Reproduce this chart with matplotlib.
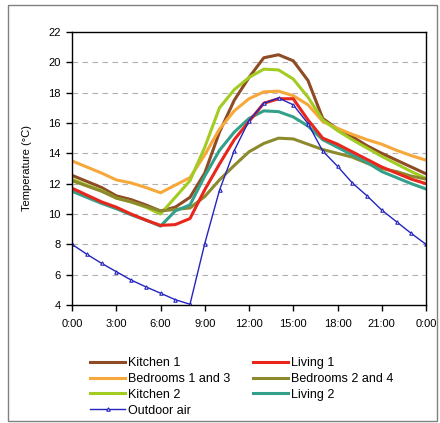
import matplotlib.pyplot as plt
import matplotlib.patches as patches
import numpy as np

plt.rcParams['font.family'] = ['Liberation Sans', 'DejaVu Sans']

hours = np.arange(0, 25)
tick_labels = ["0:00", "3:00", "6:00", "9:00", "12:00", "15:00", "18:00", "21:00", "0:00"]

kitchen1 = [12.55, 12.15, 11.75, 11.2, 10.95, 10.6, 10.2, 10.45, 11.1, 12.7, 15.4, 17.5, 19.0,
            20.3, 20.5, 20.1, 18.8, 16.3, 15.6, 15.1, 14.5, 14.0, 13.55, 13.1, 12.65]
living1 = [11.7, 11.25, 10.8, 10.45, 10.0, 9.6, 9.25, 9.3, 9.7, 11.6, 13.3, 14.9, 16.1,
           17.3, 17.6, 17.6, 16.2, 15.0, 14.6, 14.1, 13.6, 13.1, 12.7, 12.3, 12.0]
bed13 = [13.5, 13.1, 12.7, 12.25, 12.05, 11.75, 11.4, 11.9, 12.4, 13.9, 15.6, 16.8, 17.6,
         18.05, 18.1, 17.8, 17.2, 16.1, 15.65, 15.25, 14.9, 14.6, 14.2, 13.85, 13.55]
bed24 = [12.2, 11.85, 11.5, 11.05, 10.8, 10.5, 10.2, 10.3, 10.4, 11.15, 12.25, 13.2, 14.1,
         14.65, 15.0, 14.95, 14.6, 14.25, 14.0, 13.75, 13.35, 13.0, 12.8, 12.5, 12.3]
kitchen2 = [12.3, 11.9, 11.55, 11.05, 10.8, 10.45, 10.0, 11.1, 12.2, 14.4, 17.0, 18.2, 19.0,
            19.55, 19.5, 18.9, 17.7, 16.2, 15.5, 14.9, 14.35, 13.8, 13.3, 12.8, 12.35]
living2 = [11.5, 11.1, 10.7, 10.35, 9.95, 9.6, 9.2, 10.2, 10.6, 12.5, 14.2, 15.4, 16.3,
           16.8, 16.75, 16.4, 15.8, 14.9, 14.4, 13.9, 13.4, 12.8, 12.4, 12.0, 11.65]
outdoor = [8.0, 7.35, 6.75, 6.2, 5.65, 5.2, 4.78, 4.35, 4.05, 8.05, 11.57, 14.18, 16.15,
           17.3, 17.65, 17.2, 15.96, 14.15, 13.15, 12.05, 11.2, 10.26, 9.49, 8.72, 8.0]

fig = plt.figure(figsize=(4.4, 4.23), dpi=100)
ax = fig.add_axes([72/440, 118/423, 354/440, 273/423])

lw = 2.2
l_k1, = ax.plot(hours, kitchen1, color="#8e4b24", lw=lw, label="Kitchen 1")
l_b13, = ax.plot(hours, bed13, color="#f7a83a", lw=lw, label="Bedrooms 1 and 3")
l_k2, = ax.plot(hours, kitchen2, color="#a2cc22", lw=lw, label="Kitchen 2")
l_b24, = ax.plot(hours, bed24, color="#8c8a2c", lw=lw, label="Bedrooms 2 and 4")
l_l2, = ax.plot(hours, living2, color="#33a08c", lw=lw, label="Living 2")
l_l1, = ax.plot(hours, living1, color="#e8261c", lw=lw, label="Living 1")
l_out, = ax.plot(hours, outdoor, color="#2424c0", lw=1.0, marker="^", ms=2.5,
                 mfc="white", mec="#2424c0", mew=0.8, label="Outdoor air")

ax.set_xlim(0, 24)
ax.set_ylim(4, 22)
ax.set_xticks(np.arange(0, 25, 3))
ax.set_xticklabels(tick_labels)
ax.set_yticks(np.arange(4, 23, 2))
ax.tick_params(labelsize=8, length=4, width=1, direction="out", color="black")
ax.tick_params(axis="x", pad=6)
ax.tick_params(axis="y", pad=4)
for y in range(6, 22, 2):
    ax.axhline(y, color="#b0b0b0", lw=0.8, ls=(0, (5, 4)), zorder=0)
for s in ax.spines.values():
    s.set_color("black")
    s.set_linewidth(1.0)
ax.set_ylabel("Temperature (°C)", fontsize=8, labelpad=12)

handles = [l_k1, l_b13, l_k2, l_out, l_l1, l_b24, l_l2]
fig.legend(handles=handles, labels=[h.get_label() for h in handles], ncol=2,
           loc="upper left", bbox_to_anchor=(84/440, 1 - 351/423), frameon=False,
           fontsize=9, handlelength=2.8, handletextpad=0.25, columnspacing=1.8,
           labelspacing=0.3, borderpad=0)

fig.add_artist(patches.Rectangle((8/440, 2/423), 429/440, 416/423, transform=fig.transFigure,
                                 fill=False, edgecolor="#808080", lw=1.0))

fig.savefig("out.png", dpi=100)
